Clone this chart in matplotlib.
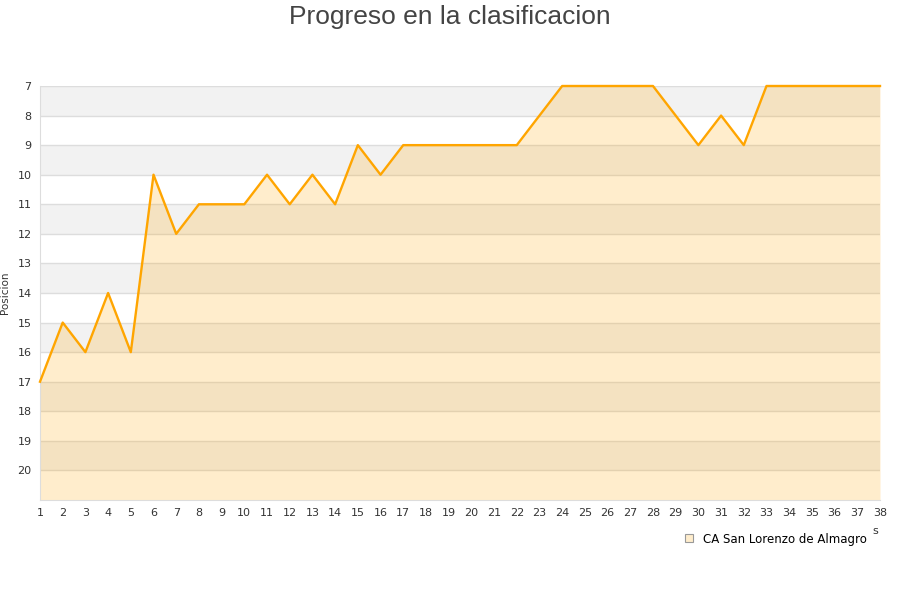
import matplotlib.pyplot as plt
from matplotlib.lines import Line2D

# datos: posicion por jornada
jornadas = list(range(1, 39))
posiciones = [17, 15, 16, 14, 16, 10, 12, 11, 11, 11,
              10, 11, 10, 11, 9, 10, 9, 9, 9, 9,
              9, 9, 8, 7, 7, 7, 7, 7, 8, 9,
              8, 9, 7, 7, 7, 7, 7, 7]
y_ticks = list(range(7, 21))
equipo = 'CA San Lorenzo de Almagro'
titulo = 'Progreso en la clasificacion'

fig = plt.figure(figsize=(9, 6), dpi=100)
ax = fig.add_axes([40 / 900, 1 - 500 / 600, 840 / 900, 414 / 600])

y_min, y_max = 7, 21
ax.set_xlim(1, 38)
ax.set_ylim(y_max, y_min)

# bandas alternas de fondo
for i, y in enumerate(range(y_min, y_max)):
    if i % 2 == 0:
        ax.axhspan(y, y + 1, color='#f2f2f2', zorder=0, lw=0)
ax.grid(axis='y', color='#dddddd', lw=1, zorder=1)

ax.fill_between(jornadas, posiciones, y_max, color='#ffa500', alpha=0.2, lw=0, zorder=2)
ax.plot(jornadas, posiciones, color='#ffa500', lw=1.7, zorder=3, clip_on=False)

ax.set_yticks(y_ticks)
ax.set_xticks(jornadas)
ax.tick_params(length=0, labelsize=8, colors='#333333', pad=6)
for s in ['top', 'right']:
    ax.spines[s].set_visible(False)
for s in ['left', 'bottom']:
    ax.spines[s].set_color('#dddddd')

ax.set_ylabel('Posicion', fontsize=7.5, color='#333333')
ax.yaxis.set_label_coords(-30 / 840, 0.5)
fig.text(875 / 900, 1 - 531 / 600, 's', fontsize=8, color='#333333', ha='center', va='center')

fig.text(0.5, 1 - 17 / 600, titulo, fontsize=19, color='#444444',
         family='Liberation Sans', ha='center', va='center')

handle = Line2D([], [], marker='s', ls='none', markersize=6,
                markerfacecolor='#ffedcc', markeredgecolor='#999999', markeredgewidth=0.8)
fig.legend([handle], [equipo], loc='center', bbox_to_anchor=(775 / 900, 1 - 539 / 600),
           frameon=False, fontsize=8.5, handletextpad=0.7, handlelength=1)

fig.savefig('out.png', dpi=100)
